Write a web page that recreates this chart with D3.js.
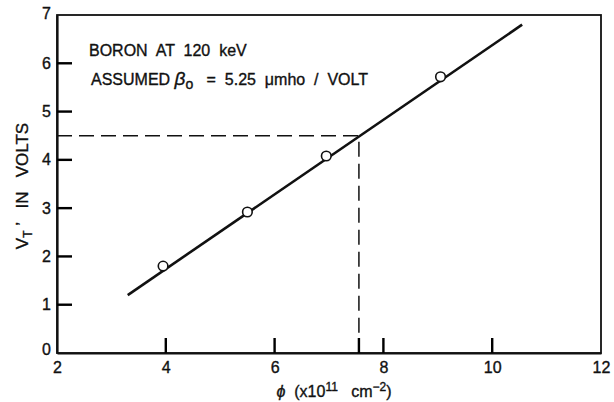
<!DOCTYPE html>
<html lang="en">
<head>
<meta charset="UTF-8">
<title>Boron VT vs dose</title>
<script src="https://cdn.jsdelivr.net/npm/d3@7"></script>
<style>
  body { margin: 0; background: #fff; }
  svg text { font-family: "Liberation Sans", Arial, Helvetica, sans-serif; fill: #111;
             white-space: pre; stroke: #111; stroke-width: 0.35; }
</style>
</head>
<body>
<div id="fig"></div>
<script>
// measured points (dose in 1e11 cm^-2, VT' in volts)
const doses = [3.95, 5.5, 6.95, 9.05]
const volts = [1.8, 2.92, 4.08, 5.72]
// fitted line ends
const fitX = [3.3, 10.55]
const fitY = [1.2, 6.8]
// read-off point
const markX = 7.55
const markY = 4.5

const xTicks = [2, 4, 6, 8, 10, 12]
const yTicks = [0, 1, 2, 3, 4, 5, 6, 7]
const xInnerTicks = [4, 6, 8, 10, markX]
const yInnerTicks = [1, 2, 3, 4, 5, 6]

const W = 614, H = 402
const margin = {left: 57, right: 10, top: 15, bottom: 49}

const svg = d3.select("#fig").append("svg")
    .attr("width", W).attr("height", H)

const x = d3.scaleLinear().domain([2, 12]).range([margin.left, W - margin.right - 3])
const y = d3.scaleLinear().domain([0, 7]).range([H - margin.bottom, margin.top])

// frame
svg.append("rect")
    .attr("x", x(2)).attr("y", y(7))
    .attr("width", x(12) - x(2)).attr("height", y(0) - y(7))
    .attr("fill", "none").attr("stroke", "#111").attr("stroke-width", 1.8)

// axes (labels only; ticks drawn inside below)
const yAxis = svg.append("g")
    .attr("transform", `translate(${x(2)},0)`)
    .call(d3.axisLeft(y).tickValues(yTicks).tickFormat(d3.format("d")).tickSize(0).tickPadding(6))
yAxis.select(".domain").attr("stroke", "#111").attr("stroke-width", 2.2)
yAxis.selectAll(".tick text").attr("font-size", 16).style("fill", "#111")
yAxis.selectAll(".tick text").filter(d => d === 0).attr("dy", "0.1em")
yAxis.selectAll(".tick text").filter(d => d === 7).attr("dy", "0.2em")

const xAxis = svg.append("g")
    .attr("transform", `translate(0,${y(0)})`)
    .call(d3.axisBottom(x).tickValues(xTicks).tickFormat(d3.format("d")).tickSize(0).tickPadding(9))
xAxis.select(".domain").attr("stroke", "#111").attr("stroke-width", 2.2)
xAxis.selectAll(".tick text").attr("font-size", 16).style("fill", "#111")

// inside ticks
const tickG = svg.append("g")
tickG.selectAll(".yt")
    .data(yInnerTicks).enter().append("rect")
    .attr("class", "yt")
    .attr("x", x(2)).attr("y", d => y(d) - 1.2)
    .attr("width", 15).attr("height", 2.4)
    .attr("fill", "#000")
tickG.selectAll(".xt")
    .data(xInnerTicks).enter().append("rect")
    .attr("class", "xt")
    .attr("x", d => x(d) - 1.2).attr("y", y(0) - 15)
    .attr("width", 2.4).attr("height", 15)
    .attr("fill", "#000")

// dashed guide lines
svg.append("path")
    .attr("d", `M${x(2)},${y(markY)}H${x(markX)}V${y(0) - 15}`)
    .attr("fill", "none").attr("stroke", "#111").attr("stroke-width", 1.5)
    .attr("stroke-dasharray", "15,7")

// fitted line
svg.append("line")
    .attr("x1", x(fitX[0])).attr("y1", y(fitY[0]))
    .attr("x2", x(fitX[1])).attr("y2", y(fitY[1]))
    .attr("stroke", "#111").attr("stroke-width", 2.6)

// data points
svg.selectAll(".pt")
    .data(doses.map((d, i) => [d, volts[i]]))
    .enter().append("circle")
    .attr("class", "pt")
    .attr("cx", d => x(d[0])).attr("cy", d => y(d[1]))
    .attr("r", 4.8)
    .attr("fill", "#fff").attr("stroke", "#111").attr("stroke-width", 1.6)

// annotations
svg.append("text").attr("x", 89).attr("y", 56).attr("font-size", 16)
    .text("BORON  AT  120  keV")
const t2 = svg.append("text").attr("x", 91).attr("y", 85).attr("font-size", 16)
t2.append("tspan").text("ASSUMED ")
t2.append("tspan").attr("font-style", "italic").attr("font-size", 19).text("β")
t2.append("tspan").attr("dy", 4).attr("font-size", 14).text("o")
t2.append("tspan").attr("dy", -4).text("   =  5.25  μmho  /  VOLT")

// axis titles
const yl = svg.append("text")
    .attr("transform", "translate(28,186) rotate(-90)")
    .attr("text-anchor", "middle").attr("font-size", 17)
yl.append("tspan").text("V")
yl.append("tspan").attr("dy", 4).attr("font-size", 12).text("T")
yl.append("tspan").attr("dy", -4).text(" ’   IN   VOLTS")

const xl = svg.append("text")
    .attr("x", 334).attr("y", 397)
    .attr("text-anchor", "middle").attr("font-size", 16)
xl.append("tspan").attr("font-style", "italic").text("ϕ")
xl.append("tspan").text("  (x10")
xl.append("tspan").attr("dy", -6).attr("font-size", 12).text("11")
xl.append("tspan").attr("dy", 6).text("   cm")
xl.append("tspan").attr("dy", -6).attr("font-size", 12).text("−2")
xl.append("tspan").attr("dy", 6).text(")")
</script>
</body>
</html>
